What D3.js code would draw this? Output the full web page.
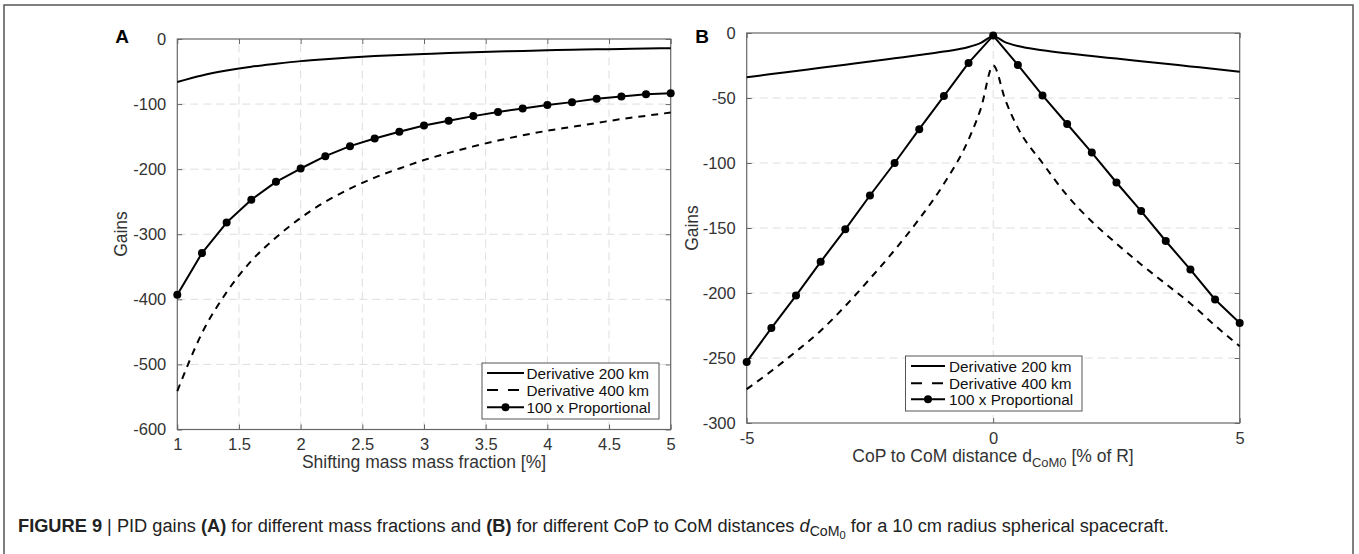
<!DOCTYPE html>
<html>
<head>
<meta charset="utf-8">
<script src="https://cdn.jsdelivr.net/npm/d3@7"></script>
<style>
  html, body { margin: 0; padding: 0; background: #fff; }
  svg { display: block; font-family: "Liberation Sans", Arial, sans-serif; }
</style>
</head>
<body>
<svg id="fig" width="1359" height="554"></svg>
<script>
// ---- Panel A: gains versus shifting-mass fraction [%] ----
const massFraction = [1, 1.2, 1.4, 1.6, 1.8, 2, 2.2, 2.4, 2.6, 2.8, 3, 3.2, 3.4, 3.6, 3.8, 4, 4.2, 4.4, 4.6, 4.8, 5];
const derivA200 = [-66, -56, -48.5, -42.5, -38, -34, -31, -28.5, -26.3, -24.5, -23, -21.6, -20.4, -19.3, -18.3, -17.4, -16.6, -15.9, -15.2, -14.7, -14.1];
const derivA400 = [-541, -452, -389, -341, -305, -275, -250, -230, -213, -199, -186, -175, -165, -156, -148, -141, -135, -129, -123, -118, -113];
const propA     = [-393, -329, -282, -247, -219.5, -199, -180, -164.6, -152.8, -142.6, -132.8, -125.6, -118.5, -112.3, -106.7, -101.5, -97, -91.8, -88.2, -85, -83.2];

// ---- Panel B: gains versus CoP to CoM distance [% of R] ----
const distMarkers = [-5, -4.5, -4, -3.5, -3, -2.5, -2, -1.5, -1, -0.5, 0, 0.5, 1, 1.5, 2, 2.5, 3, 3.5, 4, 4.5, 5];
const propB       = [-253, -227, -202, -176, -151, -125, -100, -74, -48.5, -23, -2, -24.6, -48, -70, -92, -115, -137, -160, -182, -205, -223];
const distFine    = [-5, -4.5, -4, -3.5, -3, -2.5, -2, -1.5, -1, -0.5, -0.25, 0, 0.25, 0.5, 1, 1.5, 2, 2.5, 3, 3.5, 4, 4.5, 5];
const derivB200   = [-34, -31.6, -29.2, -26.8, -24.4, -22, -19.5, -17, -14.3, -10.8, -7.6, -2.5, -7.2, -10, -13.2, -15.6, -17.7, -19.7, -21.7, -23.7, -25.7, -27.7, -29.8];
const derivB400   = [-274, -260, -245, -229, -210, -189, -167, -143, -116, -82, -58, -25, -52, -73, -100, -125, -145, -162, -178, -193, -208, -225, -241];

// tick values
const ticksAx = [1, 1.5, 2, 2.5, 3, 3.5, 4, 4.5, 5];
const ticksAy = [-600, -500, -400, -300, -200, -100, 0];
const ticksBx = [-5, 0, 5];
const ticksBy = [-300, -250, -200, -150, -100, -50, 0];

const legendLabels = ["Derivative 200 km", "Derivative 400 km", "100 x Proportional"];

const svg = d3.select("#fig");
const TXT = "#333";
const BOX = "#666";
const GRID = "#dedede";

// outer figure frame
svg.append("path")
  .attr("d", "M4,560 L4,5 L1353,5 L1353,560")
  .attr("fill", "none").attr("stroke", "#555").attr("stroke-width", 1.5);

function panel(opt) {
  const { x, y, xt, yt, xgrid, ygrid } = opt;
  const g = svg.append("g");
  const [x0, x1] = x.range();
  const [y0, y1] = y.range(); // y0 bottom, y1 top

  // dashed grid
  g.append("g").selectAll("line").data(xgrid).join("line")
    .attr("x1", d => x(d)).attr("x2", d => x(d))
    .attr("y1", y0).attr("y2", y1)
    .attr("stroke", GRID).attr("stroke-width", 1).attr("stroke-dasharray", "8,5");
  g.append("g").selectAll("line").data(ygrid).join("line")
    .attr("y1", d => y(d)).attr("y2", d => y(d))
    .attr("x1", x0).attr("x2", x1)
    .attr("stroke", GRID).attr("stroke-width", 1).attr("stroke-dasharray", "8,5");

  // axes with inward ticks
  const fmt = d => (d < 0 ? "-" : "") + Math.abs(d);
  const bottom = g.append("g").attr("transform", `translate(0,${y0})`)
    .call(d3.axisBottom(x).tickValues(xt).tickSizeInner(-5).tickSizeOuter(0).tickPadding(9).tickFormat(fmt));
  const top = g.append("g").attr("transform", `translate(0,${y1})`)
    .call(d3.axisTop(x).tickValues(xt).tickSizeInner(-5).tickSizeOuter(0).tickFormat(""));
  const left = g.append("g").attr("transform", `translate(${x0},0)`)
    .call(d3.axisLeft(y).tickValues(yt).tickSizeInner(-5).tickSizeOuter(0).tickPadding(11).tickFormat(fmt));
  const right = g.append("g").attr("transform", `translate(${x1},0)`)
    .call(d3.axisRight(y).tickValues(yt).tickSizeInner(-5).tickSizeOuter(0).tickFormat(""));
  [bottom, top, left, right].forEach(a => {
    a.select(".domain").remove();
    a.selectAll("line").attr("stroke", BOX);
    a.selectAll("text").attr("fill", TXT).attr("font-size", 16.5)
      .attr("font-family", null);
  });

  // box
  g.append("rect").attr("x", x0).attr("y", y1).attr("width", x1 - x0).attr("height", y0 - y1)
    .attr("fill", "none").attr("stroke", BOX).attr("stroke-width", 1.2);
  return g;
}

function series(g, x, y, xs, ys, opts) {
  const pts = xs.map((d, i) => [d, ys[i]]);
  const line = d3.line().x(d => x(d[0])).y(d => y(d[1])).curve(opts.curve || d3.curveLinear);
  g.append("path").attr("d", line(pts))
    .attr("fill", "none").attr("stroke", "#000").attr("stroke-width", 2)
    .attr("stroke-dasharray", opts.dash || null).attr("stroke-linejoin", "round");
  if (opts.markers) {
    g.append("g").selectAll("circle").data(pts).join("circle")
      .attr("cx", d => x(d[0])).attr("cy", d => y(d[1])).attr("r", 4).attr("fill", "#000");
  }
}

function legend(g, bx, by, w, h, rowY, lineX0, lineX1, textX) {
  g.append("rect").attr("x", bx).attr("y", by).attr("width", w).attr("height", h)
    .attr("fill", "#fff").attr("stroke", "#555").attr("stroke-width", 1);
  legendLabels.forEach((lab, i) => {
    const yy = rowY[i];
    g.append("line").attr("x1", lineX0).attr("x2", lineX1).attr("y1", yy).attr("y2", yy)
      .attr("stroke", "#000").attr("stroke-width", 2)
      .attr("stroke-dasharray", i === 1 ? "11,10" : null);
    if (i === 2) g.append("circle").attr("cx", (lineX0 + lineX1) / 2).attr("cy", yy).attr("r", 4).attr("fill", "#000");
    g.append("text").attr("x", textX).attr("y", yy + 5.5).attr("font-size", 15.3)
      .attr("fill", "#111").text(lab);
  });
}

// ---------------- Panel A ----------------
const xA = d3.scaleLinear().domain([1, 5]).range([177.3, 670.7]);
const yA = d3.scaleLinear().domain([-600, 0]).range([429.5, 39]);
const gA = panel({ x: xA, y: yA, xt: ticksAx, yt: ticksAy,
  xgrid: ticksAx.slice(1, -1), ygrid: ticksAy.slice(1, -1) });
series(gA, xA, yA, massFraction, derivA200, { curve: d3.curveMonotoneX });
series(gA, xA, yA, massFraction, derivA400, { curve: d3.curveMonotoneX, dash: "7,6" });
series(gA, xA, yA, massFraction, propA, { markers: true });
legend(gA, 482, 363, 177, 56, [373, 390, 407.3], 487, 524, 526.5);

gA.append("text").attr("x", 424).attr("y", 468).attr("text-anchor", "middle")
  .attr("font-size", 17.5).attr("fill", TXT).text("Shifting mass mass fraction [%]");
gA.append("text").attr("transform", "translate(127,234) rotate(-90)").attr("text-anchor", "middle")
  .attr("font-size", 17.5).attr("fill", TXT).text("Gains");
gA.append("text").attr("x", 122).attr("y", 43).attr("text-anchor", "middle")
  .attr("font-size", 19).attr("font-weight", "bold").attr("fill", "#000").text("A");

// ---------------- Panel B ----------------
const xB = d3.scaleLinear().domain([-5, 5]).range([746.7, 1239.7]);
const yB = d3.scaleLinear().domain([-300, 0]).range([423, 33]);
const gB = panel({ x: xB, y: yB, xt: ticksBx, yt: ticksBy,
  xgrid: [0], ygrid: ticksBy.slice(1, -1) });
series(gB, xB, yB, distFine, derivB200, { curve: d3.curveMonotoneX });
series(gB, xB, yB, distFine, derivB400, { curve: d3.curveMonotoneX, dash: "7,6" });
series(gB, xB, yB, distMarkers, propB, { markers: true });
legend(gB, 905.5, 356, 176.5, 55, [366, 383.3, 399.3], 911, 945, 949);

const xl = gB.append("text").attr("x", 993).attr("y", 462).attr("text-anchor", "middle")
  .attr("font-size", 17.5).attr("fill", TXT);
xl.append("tspan").text("CoP to CoM distance d");
xl.append("tspan").attr("font-size", 13).attr("dy", 5).text("CoM0");
xl.append("tspan").attr("dy", -5).text(" [% of R]");
gB.append("text").attr("transform", "translate(698,228) rotate(-90)").attr("text-anchor", "middle")
  .attr("font-size", 17.5).attr("fill", TXT).text("Gains");
gB.append("text").attr("x", 702).attr("y", 43).attr("text-anchor", "middle")
  .attr("font-size", 19).attr("font-weight", "bold").attr("fill", "#000").text("B");

// ---------------- Caption ----------------
const capG = svg.append("g");
const cap = capG.append("text").attr("x", 0).attr("y", 0).attr("font-size", 18).attr("fill", "#222");
cap.append("tspan").attr("font-weight", "bold").text("FIGURE 9");
cap.append("tspan").text(" | PID gains ");
cap.append("tspan").attr("font-weight", "bold").text("(A)");
cap.append("tspan").text(" for different mass fractions and ");
cap.append("tspan").attr("font-weight", "bold").text("(B)");
cap.append("tspan").text(" for different CoP to CoM distances ");
cap.append("tspan").attr("font-style", "italic").text("d");
cap.append("tspan").attr("font-size", 14).attr("dy", 4).text("CoM");
cap.append("tspan").attr("font-size", 11).attr("dy", 3).text("0");
cap.append("tspan").attr("dy", -7).text("  for a 10 cm radius spherical spacecraft.");
const capW = cap.node().getComputedTextLength();
const targetW = 1151;
capG.attr("transform", `translate(18,532) scale(${targetW / capW},1)`);
</script>
</body>
</html>
